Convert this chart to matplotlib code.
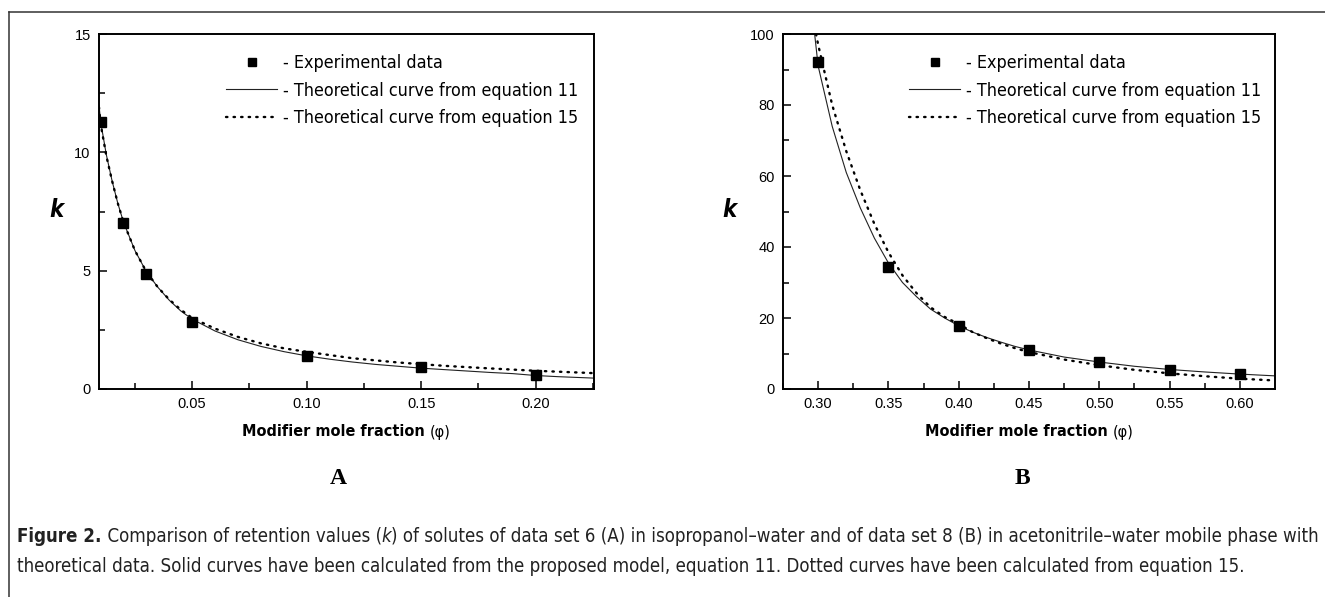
import numpy as np
import matplotlib
matplotlib.use("Agg")
from matplotlib import pyplot as plt
from matplotlib.lines import Line2D
import matplotlib.font_manager as fm
from matplotlib.font_manager import FontProperties

plt.rcParams['font.family'] = ['Liberation Sans', 'DejaVu Sans']

#panel A: isopropanol-water, data set 6
a_phi = [0.01, 0.02, 0.03, 0.05, 0.10, 0.15, 0.20]
a_k = [11.3, 7.0, 4.85, 2.85, 1.4, 0.92, 0.6]
a_eq11_phi = [0.0093, 0.01, 0.0125, 0.015, 0.0175, 0.02, 0.025, 0.03, 0.035, 0.04, 0.045,
              0.05, 0.06, 0.07, 0.08, 0.09, 0.10, 0.11, 0.12, 0.13, 0.14, 0.15, 0.16,
              0.17, 0.18, 0.19, 0.20, 0.21, 0.2255]
a_eq11_k = [12.0, 11.3, 9.9, 8.8, 7.85, 7.05, 5.85, 4.95, 4.3, 3.75, 3.3,
            2.95, 2.45, 2.08, 1.8, 1.58, 1.40, 1.26, 1.14, 1.04, 0.96, 0.88, 0.82,
            0.76, 0.70, 0.65, 0.57, 0.52, 0.46]
a_eq15_phi = [0.0093, 0.01, 0.0125, 0.015, 0.0175, 0.02, 0.025, 0.03, 0.035, 0.04, 0.045,
              0.05, 0.06, 0.07, 0.08, 0.09, 0.10, 0.12, 0.14, 0.16, 0.18, 0.20, 0.2255]
a_eq15_k = [11.9, 11.2, 9.85, 8.8, 7.85, 7.05, 5.85, 4.95, 4.3, 3.78, 3.35,
            3.0, 2.55, 2.2, 1.93, 1.72, 1.57, 1.3, 1.12, 0.98, 0.87, 0.77, 0.67]

#panel B: acetonitrile-water, data set 8
b_phi = [0.30, 0.35, 0.40, 0.45, 0.50, 0.55, 0.60]
b_k = [92.0, 34.5, 17.8, 10.9, 7.6, 5.3, 4.1]
b_eq11_phi = [0.2975, 0.30, 0.31, 0.32, 0.33, 0.34, 0.35, 0.36, 0.37, 0.38, 0.39, 0.40,
              0.41, 0.42, 0.43, 0.44, 0.45, 0.475, 0.50, 0.525, 0.55, 0.575, 0.60, 0.625]
b_eq11_k = [100, 91, 74, 61, 51, 42.5, 35.5, 30, 26, 22.5, 20, 17.8,
            16, 14.5, 13.2, 12, 11, 9, 7.6, 6.4, 5.5, 4.8, 4.2, 3.7]
b_eq15_phi = [0.2985, 0.30, 0.31, 0.32, 0.33, 0.34, 0.35, 0.36, 0.37, 0.38, 0.39, 0.40,
              0.41, 0.42, 0.43, 0.44, 0.45, 0.475, 0.50, 0.525, 0.55, 0.575, 0.60, 0.625]
b_eq15_k = [100, 97, 80, 67, 56, 46.5, 38.5, 32, 27, 23, 20.3, 18.3,
            16, 14.3, 12.8, 11.5, 10.4, 8.3, 6.7, 5.4, 4.4, 3.6, 2.9, 2.4]

labels = ['- Experimental data',
          '- Theoretical curve from equation 11',
          '- Theoretical curve from equation 15']

# --- find a narrow sans face if one is installed, else Roboto ---
def _is_narrow(f):
    s = str(f.stretch).lower()
    return ('condensed' in s or 'narrow' in s or 'Narrow' in f.name
            or 'Condensed' in f.name or 'ondensed' in f.fname or 'Narrow' in f.fname)

def _pick(entries, bold, italic):
    best, score = None, 1e9
    for f in entries:
        w = f.weight if isinstance(f.weight, (int, float)) else (700 if 'bold' in str(f.weight) else 400)
        it = f.style in ('italic', 'oblique')
        sc = abs(w - (700 if bold else 400)) / 100 + (0 if it == italic else 10)
        if sc < score:
            best, score = f, sc
    return best.fname

narrow = [f for f in fm.fontManager.ttflist if _is_narrow(f)]
fams = {}
for f in narrow:
    fams.setdefault(f.name, []).append(f)
order = ['Liberation Sans Narrow', 'DejaVu Sans Condensed', 'DejaVu Sans', 'Roboto Condensed',
         'Roboto', 'Open Sans Condensed', 'Open Sans', 'Noto Sans', 'Lato', 'Inter']
chosen = None
for n in order:
    if n in fams:
        chosen = fams[n]
        break
if chosen is None and fams:
    chosen = list(fams.values())[0]
if chosen is None:
    chosen = [f for f in fm.fontManager.ttflist if f.name == 'Roboto'] or \
             [f for f in fm.fontManager.ttflist if f.name == 'DejaVu Sans']

F_REG = _pick(chosen, False, False)
F_BOLD = _pick(chosen, True, False)
F_IT = _pick(chosen, False, True)
F_BIT = _pick(chosen, True, True)

def fp(path, size):
    return FontProperties(fname=path, size=size)

W, H = 1325, 597
fig = plt.figure(figsize=(W/100, H/100), dpi=100)
renderer = fig.canvas.get_renderer()

def text_w(s, path, size):
    # width of s incl. spaces, measured between two bars
    t = fig.text(0, 0, '|' + s + '|', fontproperties=fp(path, size))
    t2 = fig.text(0, 0, '||', fontproperties=fp(path, size))
    w = t.get_window_extent(renderer).width - t2.get_window_extent(renderer).width
    t.remove(); t2.remove()
    return w

def runs_width(parts, size):
    return sum(text_w(s, p, size) for s, p in parts)

def draw_runs(parts, x_px, y_px, size, ha='left', color='black'):
    total = runs_width(parts, size)
    x = x_px - (total / 2 if ha == 'center' else 0)
    for s, p in parts:
        fig.text(x / W, 1 - y_px / H, s, fontproperties=fp(p, size), va='center',
                 ha='left', color=color)
        x += text_w(s, p, size)

def fit_size(parts, target_px):
    return 10 * target_px / runs_width(parts, 10)

leg_size = fit_size([(labels[1], F_REG)], 295)
xl_parts = [('Modifier mole fraction ', F_BOLD), ('(φ)', F_REG)]
xl_size = fit_size(xl_parts, 207)

def px_axes(l, r, t, b):
    return fig.add_axes([l/W, (H-b)/H, (r-l)/W, (b-t)/H])

DOT = (0, (0.6, 2.6))

def draw_panel(ax, phi, k, p11, k11, p15, k15, xlim, ylim, xmaj, ymaj, ymin_step):
    ax.plot(p11, k11, '-', color='#222222', lw=0.8, zorder=2)
    ax.plot(p15, k15, color='black', lw=1.7, linestyle=DOT, dash_capstyle='round', zorder=2)
    ax.plot(phi, k, 's', color='black', ms=6.5, zorder=3)
    ax.set_xlim(*xlim)
    ax.set_ylim(*ylim)
    ax.set_xticks(xmaj)
    ax.set_xticklabels(['%.2f' % v for v in xmaj])
    ax.set_xticks(np.arange(xmaj[0] - 0.025, xlim[1], 0.025), minor=True)
    ax.set_yticks(ymaj)
    ax.set_yticks(np.arange(0, ylim[1] + 0.01, ymin_step), minor=True)
    ax.tick_params(which='both', direction='in', top=False, right=False,
                   width=1.1, labelsize=10.5)
    ax.tick_params(which='major', length=6, pad=6)
    ax.tick_params(which='minor', length=4)
    for s in ax.spines.values():
        s.set_linewidth(1.4)
    fpx = leg_size * 100 / 72
    h = [Line2D([], [], ls='none', marker='s', color='black', ms=6),
         Line2D([], [], ls='-', color='#222222', lw=0.8),
         Line2D([], [], color='black', lw=1.7, linestyle=DOT, dash_capstyle='round')]
    top_px = 65 - fpx * 0.62
    ax.legend(h, labels, loc='upper left',
              bbox_to_anchor=(0.2566, 1 - (top_px - 34) / 355),
              frameon=False, borderpad=0, borderaxespad=0,
              handlelength=51 / fpx, handletextpad=6 / fpx,
              labelspacing=(27.5 - fpx * 1.0) / fpx,
              prop=fp(F_REG, leg_size))

axA = px_axes(99, 594, 34, 389)
draw_panel(axA, a_phi, a_k, a_eq11_phi, a_eq11_k, a_eq15_phi, a_eq15_k,
           (0.0093, 0.2255), (0, 15), [0.05, 0.10, 0.15, 0.20], [0, 5, 10, 15], 2.5)

axB = px_axes(783, 1275, 34, 389)
draw_panel(axB, b_phi, b_k, b_eq11_phi, b_eq11_k, b_eq15_phi, b_eq15_k,
           (0.275, 0.625), (0, 100), [0.30, 0.35, 0.40, 0.45, 0.50, 0.55, 0.60],
           [0, 20, 40, 60, 80, 100], 10)

# axis labels
draw_runs(xl_parts, 346, 432, xl_size, ha='center')
draw_runs(xl_parts, 1029, 432, xl_size, ha='center')
fig.text(56/W, 1 - 210/H, 'k', fontproperties=fp(F_BIT, 17), ha='center', va='center')
fig.text(729/W, 1 - 210/H, 'k', fontproperties=fp(F_BIT, 17), ha='center', va='center')

# panel letters
fig.text(338/W, 1 - 478/H, 'A', ha='center', va='center', fontsize=17,
         fontweight='bold', family=['Liberation Serif', 'DejaVu Serif'])
fig.text(1022/W, 1 - 478/H, 'B', ha='center', va='center', fontsize=17,
         fontweight='bold', family=['Liberation Serif', 'DejaVu Serif'])

# frame lines of the figure box (top and left only)
fig.add_artist(Line2D([9/W, 1], [1 - 12/H, 1 - 12/H], color='#333333', lw=1.1))
fig.add_artist(Line2D([9/W, 9/W], [0, 1 - 12/H], color='#333333', lw=1.1))

# caption
cap1 = [('Figure 2.', F_BOLD),
        (' Comparison of retention values (', F_REG), ('k', F_IT),
        (') of solutes of data set 6 (A) in isopropanol–water and of data set 8 (B) '
         'in acetonitrile–water mobile phase with', F_REG)]
cap2 = [('theoretical data. Solid curves have been calculated from the proposed model, '
         'equation 11. Dotted curves have been calculated from equation 15.', F_REG)]
cap_size = fit_size(cap1, 1302)
draw_runs(cap1, 17, 537, cap_size, color='#222222')
draw_runs(cap2, 17, 567, cap_size, color='#222222')

plt.savefig('out.png', dpi=100)
